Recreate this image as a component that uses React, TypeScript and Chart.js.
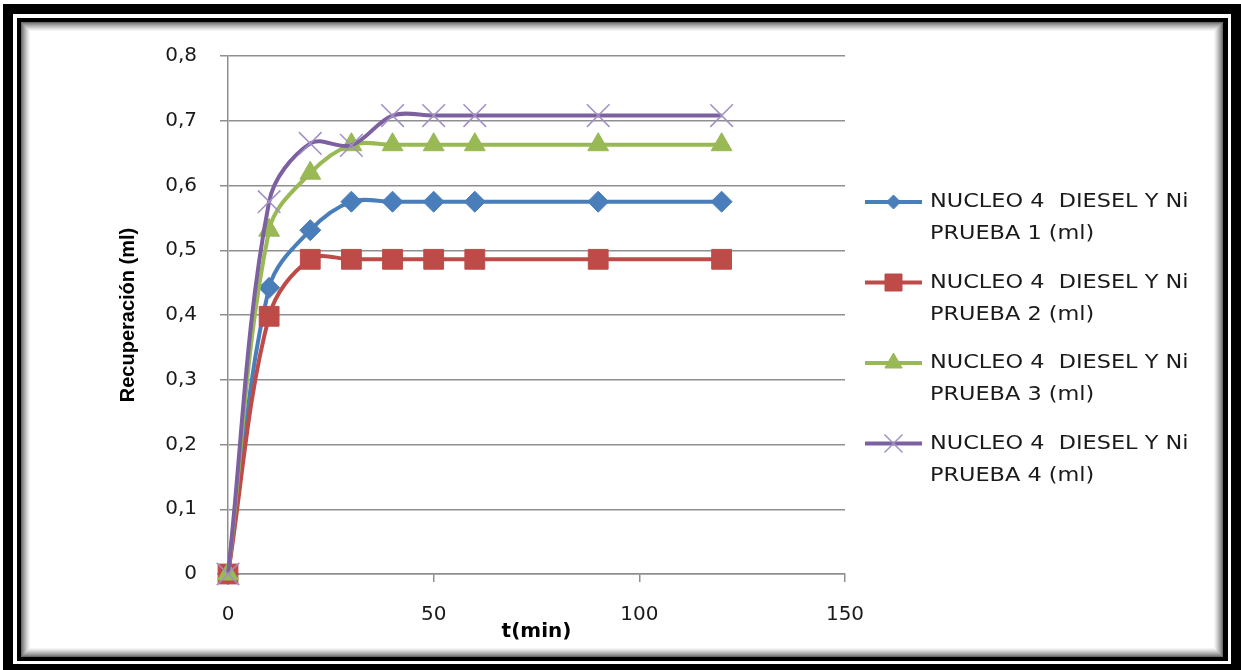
import React, { useEffect, useRef } from "react";
import { Chart, registerables } from "chart.js";

Chart.register(...registerables);

// ---- data ----
const timeMin = [0, 10, 20, 30, 40, 50, 60, 90, 120];
const prueba1 = [0, 0.442, 0.531, 0.575, 0.575, 0.575, 0.575, 0.575, 0.575];
const prueba2 = [0, 0.398, 0.486, 0.486, 0.486, 0.486, 0.486, 0.486, 0.486];
const prueba3 = [0, 0.531, 0.619, 0.663, 0.663, 0.663, 0.663, 0.663, 0.663];
const prueba4 = [0, 0.575, 0.665, 0.662, 0.708, 0.708, 0.708, 0.708, 0.708];

const seriesLabels = [
  ["NUCLEO 4  DIESEL Y Ni", "PRUEBA 1 (ml)"],
  ["NUCLEO 4  DIESEL Y Ni", "PRUEBA 2 (ml)"],
  ["NUCLEO 4  DIESEL Y Ni", "PRUEBA 3 (ml)"],
  ["NUCLEO 4  DIESEL Y Ni", "PRUEBA 4 (ml)"],
];
const yTickLabels = ["0", "0,1", "0,2", "0,3", "0,4", "0,5", "0,6", "0,7", "0,8"];
const xTickLabels = ["0", "50", "100", "150"];
const xTitle = "t(min)";
const yTitle = "Recuperación (ml)";

// ---- styles ----
const W = 1241;
const H = 670;
const colors = ["#4A7EBB", "#BE4B48", "#98B954", "#7D60A0"];
const markerBorders = ["#4A7EBB", "#BE4B48", "#98B954", "#A28FC4"];
const pointStyles = ["rectRot", "rect", "triangle", "crossRot"];
const pointRadii = [10.5, 14, 12, 16];
const gridColor = "#8f8f8f";
const textColor = "#1a1a1a";
const sans = "'DejaVu Sans', sans-serif";

function drawFrame(ctx: CanvasRenderingContext2D) {
  ctx.save();
  ctx.fillStyle = "#fff";
  ctx.fillRect(0, 0, W, H);
  ctx.fillStyle = "#000";
  ctx.fillRect(3, 4, W - 3, H - 4);
  ctx.fillStyle = "#fff";
  ctx.fillRect(13, 14, 1231 - 13, 664 - 14);
  ctx.fillStyle = "#000";
  ctx.fillRect(17, 18, 1228 - 17, 661 - 18);
  const shades = [0x6a, 0x84, 0x98, 0xaa, 0xbb, 0xcb, 0xdb, 0xe9, 0xf5];
  shades.forEach((s, i) => {
    ctx.fillStyle = `rgb(${s},${s},${s})`;
    ctx.fillRect(21 + i, 22 + i, 1223 - 21 - 2 * i, 657 - 22 - 2 * i);
  });
  ctx.fillStyle = "#fff";
  ctx.fillRect(30, 31, 1214 - 30, 648 - 31);
  ctx.restore();
}

function drawMarker(
  ctx: CanvasRenderingContext2D,
  style: string,
  x: number,
  y: number,
  color: string,
  border: string
) {
  ctx.save();
  ctx.fillStyle = color;
  ctx.strokeStyle = border;
  ctx.lineWidth = 1;
  ctx.beginPath();
  if (style === "rectRot") {
    const r = 7;
    ctx.moveTo(x, y - r);
    ctx.lineTo(x + r, y);
    ctx.lineTo(x, y + r);
    ctx.lineTo(x - r, y);
    ctx.closePath();
    ctx.fill();
    ctx.stroke();
  } else if (style === "rect") {
    const h = 8.5;
    ctx.rect(x - h, y - h, 2 * h, 2 * h);
    ctx.fill();
    ctx.stroke();
  } else if (style === "triangle") {
    const r = 10;
    ctx.moveTo(x, y - r);
    ctx.lineTo(x + r * 0.866, y + r / 2);
    ctx.lineTo(x - r * 0.866, y + r / 2);
    ctx.closePath();
    ctx.fill();
    ctx.stroke();
  } else {
    const h = 9;
    ctx.lineWidth = 1.5;
    ctx.moveTo(x - h, y - h);
    ctx.lineTo(x + h, y + h);
    ctx.moveTo(x + h, y - h);
    ctx.lineTo(x - h, y + h);
    ctx.stroke();
  }
  ctx.restore();
}

const framePlugin = {
  id: "frame",
  beforeDraw(chart: any) {
    drawFrame(chart.ctx);
  },
};

const legendPlugin = {
  id: "sideLegend",
  afterDraw(chart: any) {
    const ctx: CanvasRenderingContext2D = chart.ctx;
    const x0 = 865;
    const x1 = 922;
    const textX = 930;
    const firstY = 202;
    const itemGap = 80.5;
    const lineGap = 32;
    seriesLabels.forEach((lines, i) => {
      const y = firstY + i * itemGap;
      ctx.save();
      ctx.strokeStyle = colors[i];
      ctx.lineWidth = 4;
      ctx.beginPath();
      ctx.moveTo(x0, y);
      ctx.lineTo(x1, y);
      ctx.stroke();
      ctx.restore();
      drawMarker(ctx, pointStyles[i], (x0 + x1) / 2, y, colors[i], markerBorders[i]);
      ctx.save();
      ctx.fillStyle = textColor;
      ctx.font = `20px ${sans}`;
      ctx.textBaseline = "middle";
      ctx.textAlign = "left";
      ctx.translate(textX, y);
      ctx.scale(1.12, 1);
      lines.forEach((t, k) => ctx.fillText(t, 0, k * lineGap));
      ctx.restore();
    });
  },
};

export default function App() {
  const ref = useRef<HTMLCanvasElement>(null);

  useEffect(() => {
    document.body.style.margin = "0";
    const series = [prueba1, prueba2, prueba3, prueba4];
    const datasets = series.map((vals, i) => ({
      label: seriesLabels[i].join(" "),
      data: vals.map((v, k) => ({ x: timeMin[k], y: v })),
      borderColor: colors[i],
      backgroundColor: colors[i],
      borderWidth: 4,
      tension: 0.35,
      pointStyle: pointStyles[i],
      pointRadius: pointRadii[i],
      pointBackgroundColor: colors[i],
      pointBorderColor: markerBorders[i],
      pointBorderWidth: i === 3 ? 1.5 : 1,
      order: 3 - i,
      clip: false as any,
    }));

    const chart = new Chart(ref.current!, {
      type: "line",
      data: { datasets },
      plugins: [framePlugin, legendPlugin],
      options: {
        animation: false,
        responsive: false,
        events: [],
        layout: { padding: { left: 116, right: 396, top: 56, bottom: 26 } },
        plugins: {
          legend: { display: false },
          tooltip: { enabled: false },
        },
        scales: {
          x: {
            type: "linear",
            min: 0,
            max: 150,
            afterFit: (s: any) => {
              s.height = 70;
            },
            ticks: {
              stepSize: 50,
              padding: 21,
              color: textColor,
              font: { family: sans, size: 20 },
              callback: (_v: any, i: number) => xTickLabels[i],
            },
            grid: {
              drawOnChartArea: false,
              drawTicks: true,
              tickLength: 8,
              color: gridColor,
              lineWidth: 1.5,
            },
            border: { display: true, color: gridColor, width: 1.5 },
            title: {
              display: true,
              text: xTitle,
              color: "#000",
              padding: 0,
              font: { family: sans, size: 20, weight: "bold" },
            },
          },
          y: {
            type: "linear",
            min: 0,
            max: 0.8,
            afterFit: (s: any) => {
              s.width = 112;
            },
            ticks: {
              stepSize: 0.1,
              padding: 23,
              color: textColor,
              font: { family: sans, size: 20 },
              callback: (_v: any, i: number) => yTickLabels[i],
            },
            grid: {
              drawOnChartArea: true,
              drawTicks: true,
              tickLength: 8,
              color: gridColor,
              lineWidth: 1.5,
            },
            border: { display: true, color: gridColor, width: 1.5 },
            title: {
              display: true,
              text: yTitle,
              color: "#000",
              padding: 0,
              font: { family: "'Liberation Sans', sans-serif", size: 20, weight: "bold" },
            },
          },
        },
      },
    } as any);
    return () => chart.destroy();
  }, []);

  return (
    <div style={{ position: "fixed", left: 0, top: 0, width: W, height: H }}>
      <canvas ref={ref} width={W} height={H} style={{ display: "block", width: W, height: H }} />
    </div>
  );
}
